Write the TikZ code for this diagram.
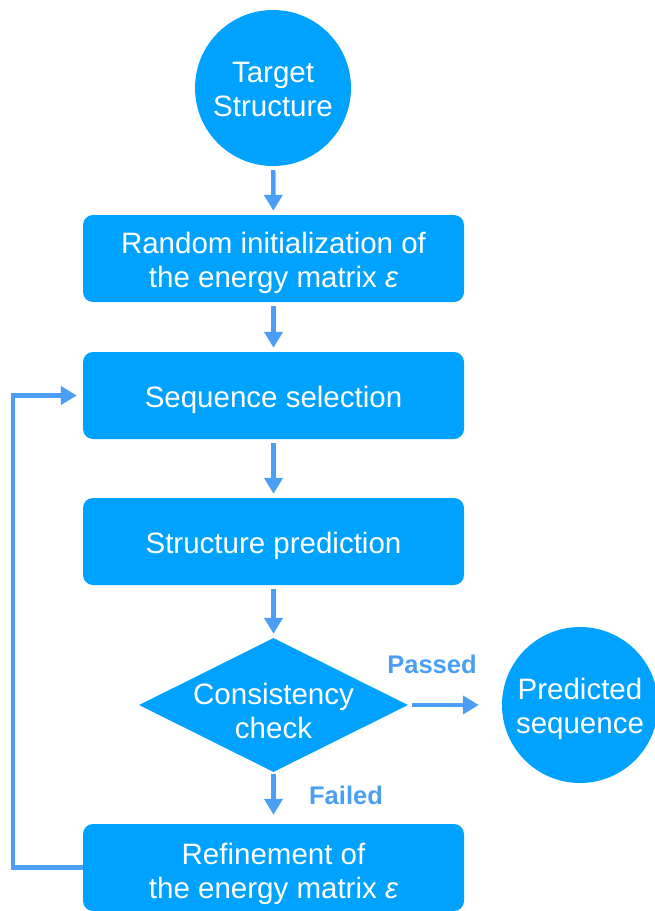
\documentclass[tikz,border=0pt]{standalone}
\usepackage{fontspec}
\setmainfont{Liberation Sans}
\usetikzlibrary{shapes.geometric,arrows.meta}
\definecolor{boxblue}{HTML}{00A2FF}
\definecolor{arrblue}{HTML}{4A9FF5}

\begin{document}
\begin{tikzpicture}[x=1pt,y=-1pt]
    \tikzset{
    lab/.style={text=white,align=center,font=\fontsize{29.5}{34}\selectfont,yshift=-4pt},
    rnd/.style={circle,minimum size=156pt,inner sep=0pt,fill=boxblue},
    blk/.style={rectangle,rounded corners=10pt,minimum width=381pt,minimum height=87pt,inner sep=0pt,fill=boxblue},
    chk/.style={diamond,minimum width=269pt,minimum height=134pt,inner sep=0pt,fill=boxblue},
    arr/.style={draw=arrblue,line width=4.5pt,-{Triangle[length=16pt,width=18pt]},shorten <=4pt,shorten >=4pt},
    lbl/.style={text=arrblue,font=\fontsize{25.5}{30}\selectfont\bfseries},
    }
    \useasboundingbox (0,0) rectangle (655,911);
    \node[rnd,label={[lab,yshift=3pt]center:Target\\Structure}] (tgt) at (273,88) {};
    \node[blk,label={[lab]center:Random initialization of\\the energy matrix {\itshape ε}}] (init) at (273.5,258.5) {};
    \node[blk,label={[lab]center:Sequence selection}] (sel) at (273.5,395.5) {};
    \node[blk,label={[lab]center:Structure prediction}] (pred) at (273.5,541.5) {};
    \node[chk,label={[lab,yshift=-2pt]center:Consistency\\check}] (chk) at (273.5,705) {};
    \node[rnd,label={[lab]center:Predicted\\sequence}] (out) at (580,705) {};
    \node[blk,label={[lab,yshift=-2pt]center:Refinement of\\the energy matrix {\itshape ε}}] (ref) at (273.5,867.5) {};
    \node[lbl] (pass) at (432,664) {Passed};
    \node[lbl] (fail) at (346,795) {Failed};

    \draw[arr] (tgt) -- (init);
    \draw[arr] (init) -- (sel);
    \draw[arr] (sel) -- (pred);
    \draw[arr] (pred) -- (chk);
    \draw[arr,shorten <=2pt,shorten >=9pt] (chk) -- (ref);
    \draw[arr,shorten >=23pt] (chk) -- (out);
    \draw[arr,shorten <=0pt,shorten >=6pt] (ref.west) -- ++(-70,0) |- (sel.west);
\end{tikzpicture}
\end{document}
